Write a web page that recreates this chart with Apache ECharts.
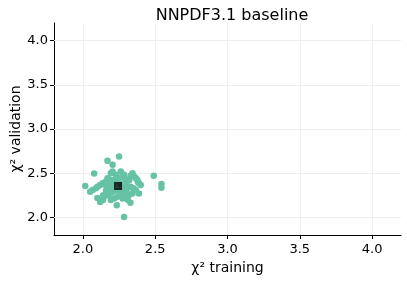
<!DOCTYPE html>
<html><head><meta charset="utf-8">
<script src="https://cdn.jsdelivr.net/npm/echarts@6/dist/echarts.min.js"></script>
<style>html,body{margin:0;padding:0;background:#fff}#c{width:407px;height:281px}</style>
</head><body><div id="c"></div>
<script>
const title = "NNPDF3.1 baseline";
const xLabel = "χ² training";
const yLabel = "χ² validation";
const tickValues = [2.0, 2.5, 3.0, 3.5, 4.0];
const replicaTrain = [2.25,2.17,2.205,2.078,2.49,2.543,2.543,2.016,2.285,2.234,2.329,
  2.050,2.067,2.090,2.101,2.119,2.136,2.147,2.159,2.193,2.205,2.228,2.262,2.250,2.274,2.285,2.308,2.343,2.354,2.366,2.377,2.388,2.400,2.388,2.366,2.343,2.319,2.297,2.274,2.262,2.239,2.216,2.193,2.170,2.147,2.136,2.119,2.136,2.181,2.205,2.285,2.308,2.331,2.193,2.170,
  2.100,2.120,2.160,2.200,2.300,2.320,2.350,2.380,2.220,2.260,2.180,2.140,2.330,2.310,2.210,
  2.180,2.240,2.270,2.300,2.200,2.160,2.250,2.290];
const replicaValid = [2.69,2.64,2.595,2.495,2.47,2.378,2.335,2.355,2.003,2.137,2.164,
  2.289,2.309,2.328,2.347,2.366,2.386,2.392,2.404,2.500,2.518,2.481,2.518,2.443,2.461,2.481,2.423,2.500,2.461,2.443,2.423,2.386,2.366,2.271,2.309,2.271,2.252,2.232,2.214,2.252,2.232,2.214,2.195,2.252,2.232,2.195,2.175,2.195,2.328,2.366,2.347,2.328,2.347,2.423,2.443,
  2.220,2.200,2.300,2.280,2.300,2.420,2.330,2.400,2.300,2.380,2.260,2.250,2.470,2.200,2.420,
  2.400,2.420,2.280,2.400,2.320,2.360,2.300,2.440];
const meanTrain = [2.243];
const meanValid = [2.355];

const pts = replicaTrain.map((x,i)=>[x, replicaValid[i]]);
const mean = meanTrain.map((x,i)=>[x, meanValid[i]]);
const F = 'DejaVu Sans';
const chart = echarts.init(document.getElementById('c'), null, {renderer:'canvas'});
const axisCommon = {
  min: 1.8, max: 4.2,
  nameMoveOverlap: false,
  axisLine: {show:true, onZero:false, lineStyle:{color:'#000', width:1}},
  axisTick: {show:true, length:4, lineStyle:{color:'#000'}, customValues: tickValues},
  axisLabel: {color:'#000', fontFamily:F, fontSize:13, customValues: tickValues, formatter: v=>v.toFixed(1)},
  splitLine: {show:false},
  nameTextStyle: {color:'#000', fontFamily:F, fontSize:14},
};
chart.setOption({
  animation:false,
  title:{text:title, left:227, top:3, textAlign:'center', textStyle:{fontFamily:F, fontSize:16, fontWeight:'normal', color:'#000'}},
  grid:{left:54, right:6, top:23, bottom:46, containLabel:false, outerBoundsMode:'none'},
  xAxis: Object.assign({}, axisCommon, {type:'value', name:xLabel, nameLocation:'middle', nameGap:26, axisLabel:Object.assign({}, axisCommon.axisLabel, {margin:8})}),
  yAxis: Object.assign({}, axisCommon, {type:'value', name:yLabel, nameLocation:'middle', nameGap:31, axisLabel:Object.assign({}, axisCommon.axisLabel, {margin:6})}),
  series:[
    {type:'scatter', data:[], z:1,
     markLine:{silent:true, symbol:'none', label:{show:false}, lineStyle:{color:'#efefef', width:1, type:'solid'},
       data: tickValues.map(v=>({xAxis:v})).concat(tickValues.map(v=>({yAxis:v})))}},
    {type:'scatter', data:pts, symbolSize:6.5, itemStyle:{color:'#66c2a5', opacity:1}, z:5},
    {type:'scatter', data:mean, symbol:'rect', symbolSize:8, itemStyle:{color:'#000'}, z:6}
  ]
});
</script></body></html>
